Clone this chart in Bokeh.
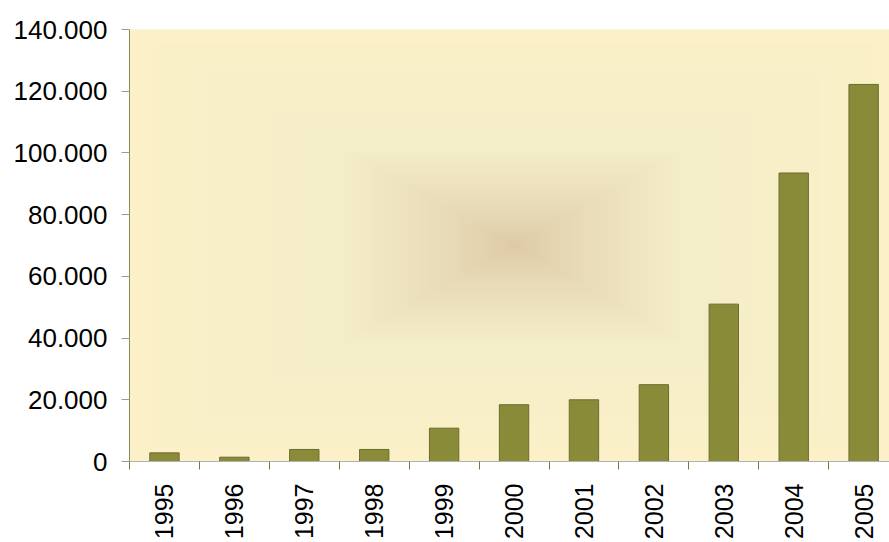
import numpy as np
from bokeh.plotting import figure
from bokeh.models import Range1d, FixedTicker
from bokeh.embed import file_html
from bokeh.resources import INLINE

# ---- data ----
years = ["1995", "1996", "1997", "1998", "1999", "2000", "2001", "2002", "2003", "2004", "2005"]
values = [2800, 1400, 3900, 3900, 10800, 18400, 20000, 24900, 51000, 93500, 122200]
y_ticks = [0, 20000, 40000, 60000, 80000, 100000, 120000, 140000]
y_labels = ["0", "20.000", "40.000", "60.000", "80.000", "100.000", "120.000", "140.000"]

x = list(range(len(years)))

p = figure(width=889, height=542, output_backend="svg", toolbar_location=None,
           x_range=Range1d(-0.5, 10.37), y_range=Range1d(0, 140000),
           min_border_left=129, min_border_right=0, min_border_top=29, min_border_bottom=79)

# ---- background rectangular gradient (decoration) ----
H, W = 434, 770
yy, xx = np.mgrid[0:H, 0:W]
t = np.maximum(np.abs((xx + 0.5) / W * 2 - 1), np.abs((yy + 0.5) / H * 2 - 1))
edge = np.array([252, 241, 200], dtype=float)
mid = np.array([244, 238, 201], dtype=float)
center = np.array([222, 201, 166], dtype=float)
t3 = t[..., None]
k = 0.45
inner = center + (mid - center) * np.clip(t3 / k, 0, 1) ** 0.75
outer = mid + (edge - mid) * np.clip((t3 - k) / (1 - k), 0, 1)
rgb = np.where(t3 < k, inner, outer)
img = np.empty((H, W), dtype=np.uint32)
view = img.view(dtype=np.uint8).reshape((H, W, 4))
view[..., 0] = rgb[..., 0].astype(np.uint8)
view[..., 1] = rgb[..., 1].astype(np.uint8)
view[..., 2] = rgb[..., 2].astype(np.uint8)
view[..., 3] = 255
p.image_rgba(image=[img], x=-0.5, y=0, dw=len(years), dh=140000)

p.background_fill_color = "#FCF1C8"
p.border_fill_color = "white"
p.outline_line_color = None

# ---- bars ----
p.vbar(x=x, top=values, width=0.42, bottom=0,
       fill_color="#8A8B38", line_color="#6C6C2E", line_width=1)

p.xgrid.visible = False
p.ygrid.visible = False

font = "Liberation Sans"

# x axis
xa = p.xaxis[0]
xa.ticker = FixedTicker(ticks=x, minor_ticks=[i - 0.5 for i in range(len(years) + 1)])
xa.major_label_overrides = {i: years[i] for i in x}
xa.major_label_orientation = np.pi / 2
xa.major_tick_out = 8
xa.major_tick_in = 0
xa.major_tick_line_color = None
xa.minor_tick_out = 8
xa.minor_tick_in = 0
xa.minor_tick_line_color = "#77773F"
xa.minor_tick_line_width = 1
xa.axis_line_color = "#B0B0B0"
xa.major_label_text_font = font
xa.major_label_text_font_size = "25px"
xa.major_label_text_color = "black"
xa.major_label_standoff = 14

# y axis
ya = p.yaxis[0]
ya.ticker = FixedTicker(ticks=y_ticks)
ya.major_label_overrides = {v: l for v, l in zip(y_ticks, y_labels)}
ya.major_tick_out = 8
ya.major_tick_in = 0
ya.major_tick_line_color = "#9A9A9A"
ya.minor_tick_line_color = None
ya.axis_line_color = "#8A8A5C"
ya.major_label_text_font = font
ya.major_label_text_font_size = "26px"
ya.major_label_text_color = "black"
ya.major_label_standoff = 14

open("out.html", "w").write(file_html(p, INLINE))
